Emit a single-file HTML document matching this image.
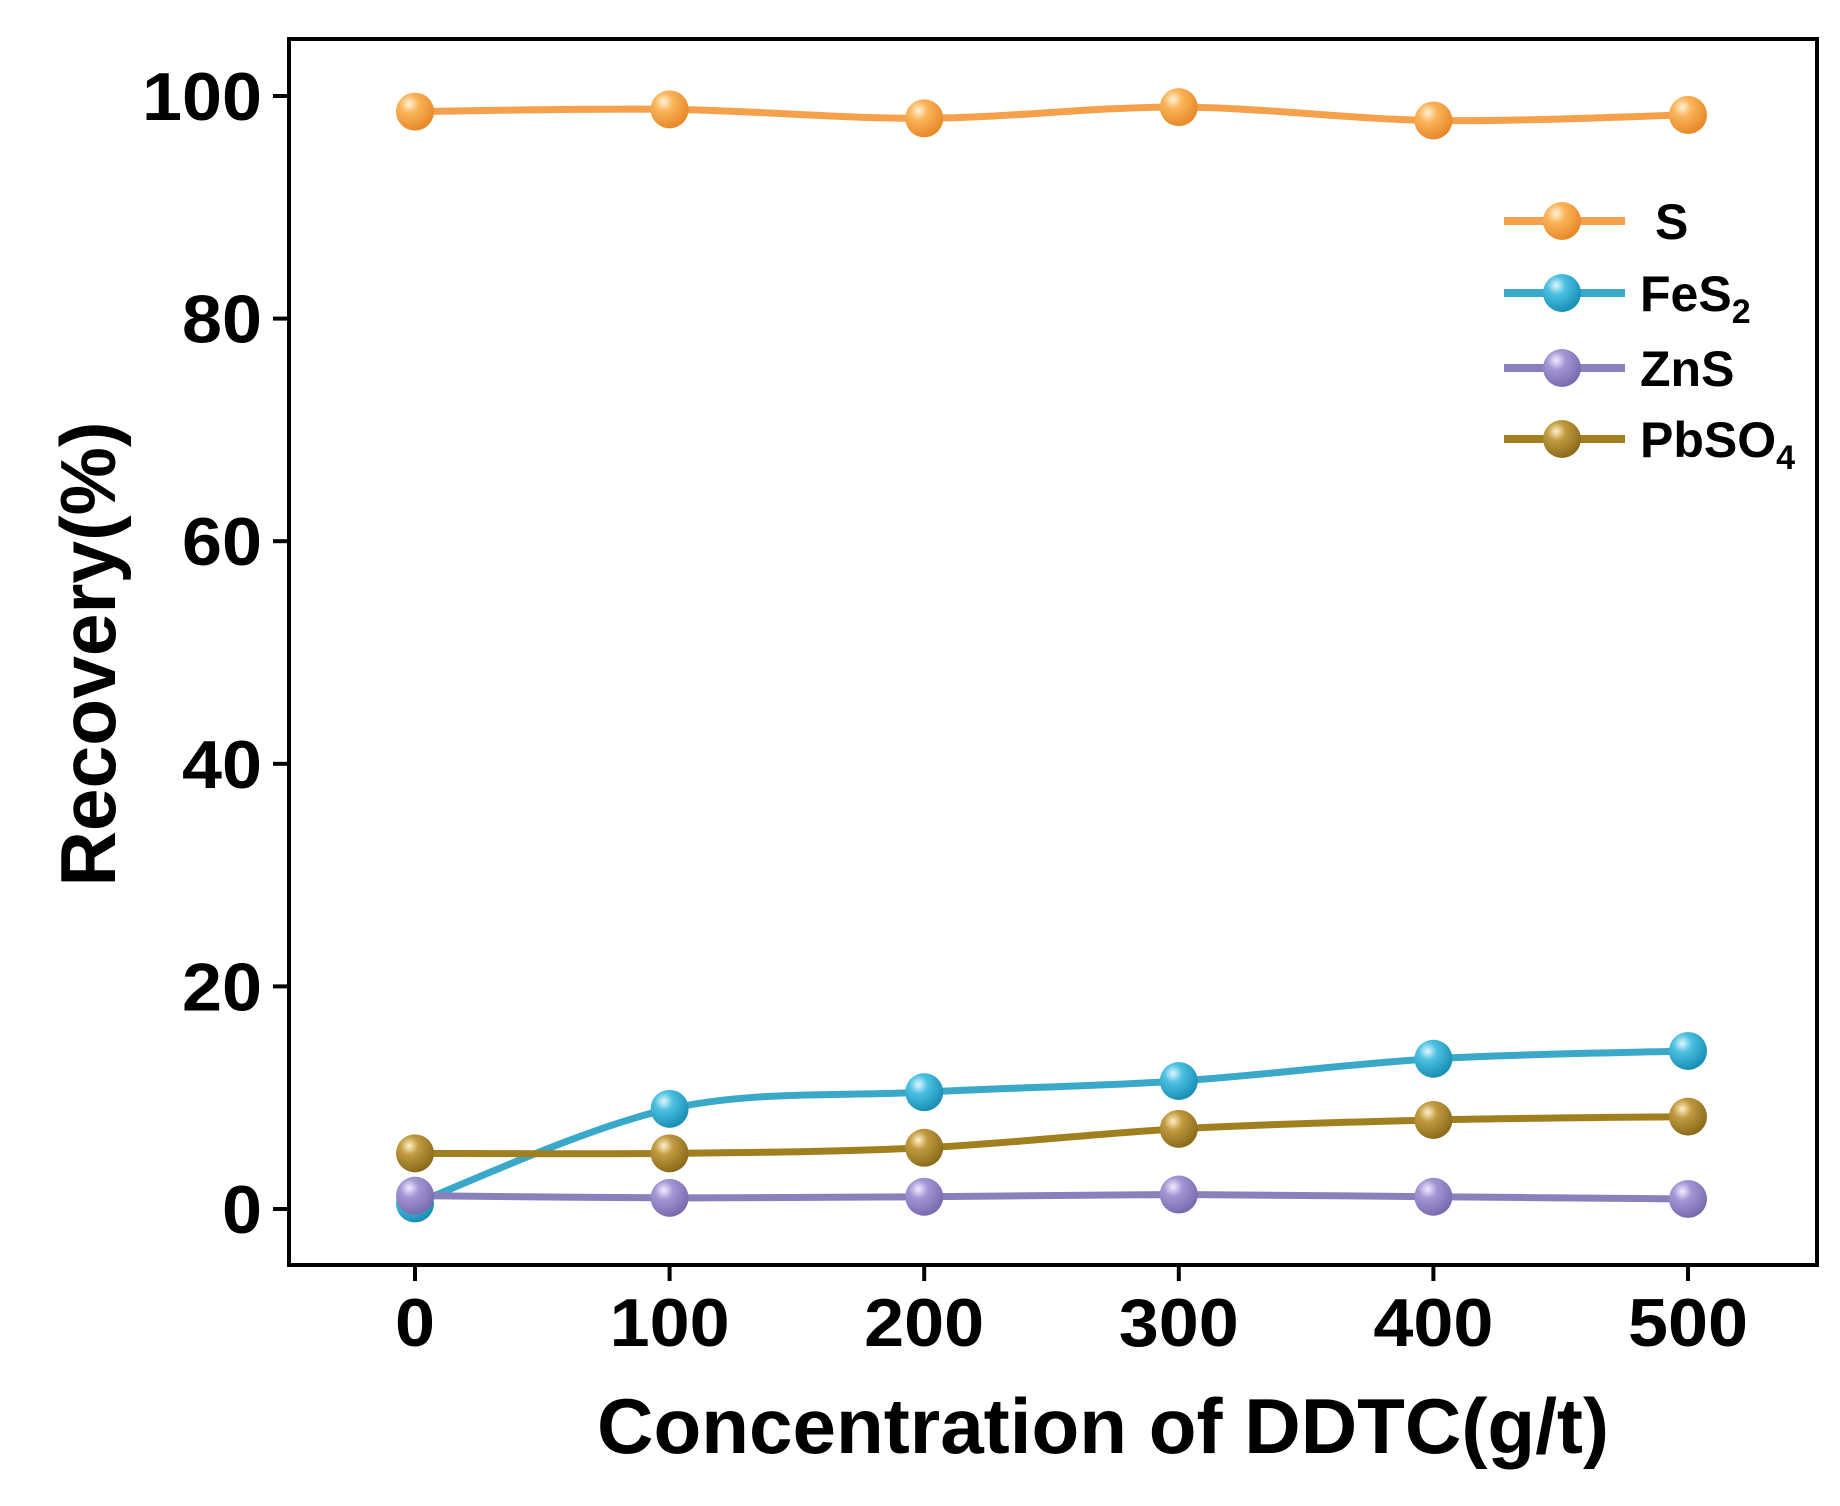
<!DOCTYPE html>
<html><head><meta charset="utf-8"><style>
html,body{margin:0;padding:0;background:#fff}
svg{display:block}
text{font-family:"Liberation Sans",Arial,sans-serif;font-weight:bold;fill:#000}
</style></head><body>
<svg id="chart" width="1840" height="1506" viewBox="0 0 1840 1506">
<defs>
<radialGradient id="g0" cx="0.35" cy="0.3" r="0.7"><stop offset="0" stop-color="#fff3d8"/><stop offset="0.35" stop-color="#fbb45a"/><stop offset="1" stop-color="#e8892a"/></radialGradient>
<radialGradient id="g1" cx="0.35" cy="0.3" r="0.7"><stop offset="0" stop-color="#e0f6ff"/><stop offset="0.35" stop-color="#4cc0e0"/><stop offset="1" stop-color="#1a90b8"/></radialGradient>
<radialGradient id="g2" cx="0.35" cy="0.3" r="0.7"><stop offset="0" stop-color="#f0ecff"/><stop offset="0.35" stop-color="#a396d4"/><stop offset="1" stop-color="#7a6cb0"/></radialGradient>
<radialGradient id="g3" cx="0.35" cy="0.3" r="0.7"><stop offset="0" stop-color="#fff0c8"/><stop offset="0.35" stop-color="#c09a40"/><stop offset="1" stop-color="#8c6c1c"/></radialGradient>
</defs>
</svg>
<script>
const categories=[0,100,200,300,400,500];
const sVals=[98.6,98.8,98.0,99.0,97.8,98.3];
const fes2Vals=[0.5,9.0,10.5,11.5,13.5,14.2];
const znsVals=[1.2,1.0,1.1,1.3,1.1,0.9];
const pbso4Vals=[5.0,5.0,5.5,7.2,8.0,8.3];
const yTicks=[0,20,40,60,80,100];
const seriesNames=["S","FeS2","ZnS","PbSO4"];

const NS="http://www.w3.org/2000/svg";
const svg=document.getElementById('chart');
const L=289,R=1817,T=39,B=1265;
const xs=v=>415+(v-0)*(1688-415)/500;
const ys=v=>1209-v*(1209-96)/100;
function mk(tag,attrs,parent){const e=document.createElementNS(NS,tag);for(const k in attrs)e.setAttribute(k,attrs[k]);(parent||svg).appendChild(e);return e;}

const frame=mk('rect',{x:L,y:T,width:R-L,height:B-T,fill:'none',stroke:'#000','stroke-width':4});



yTicks.forEach(v=>{
  const y=ys(v);
  const t=mk('line',{x1:L-16,x2:L,y1:y,y2:y,stroke:'#000','stroke-width':4});
  
  
  const lb=mk('text',{x:262,y:y+24,'text-anchor':'end','font-size':68,'textLength':(String(v).length*40),'lengthAdjust':'spacingAndGlyphs'});
  lb.textContent=v;
  
  
});
categories.forEach(v=>{
  const x=xs(v);
  const t=mk('line',{x1:x,x2:x,y1:B,y2:B+16,stroke:'#000','stroke-width':4});
  
  
  const lb=mk('text',{x:x,y:1346,'text-anchor':'middle','font-size':68,'textLength':(String(v).length*40),'lengthAdjust':'spacingAndGlyphs'});
  lb.textContent=v;
  
  
});
const xt=mk('text',{x:1103,y:1453,'text-anchor':'middle','font-size':78,'textLength':1012,'lengthAdjust':'spacingAndGlyphs'});
xt.textContent='Concentration of DDTC(g/t)';


const yt=mk('text',{x:0,y:0,'text-anchor':'middle','font-size':78,'textLength':465,'lengthAdjust':'spacingAndGlyphs',transform:'translate(115,654) rotate(-90)'});
yt.textContent='Recovery(%)';



function smoothPath(pts){
  let d='M'+pts[0][0]+','+pts[0][1];
  for(let i=0;i<pts.length-1;i++){
    const p0=pts[i-1]||pts[i],p1=pts[i],p2=pts[i+1],p3=pts[i+2]||p2;
    const c1=[p1[0]+(p2[0]-p0[0])/6,p1[1]+(p2[1]-p0[1])/6];
    const c2=[p2[0]-(p3[0]-p1[0])/6,p2[1]-(p3[1]-p1[1])/6];
    d+=' C'+c1[0]+','+c1[1]+' '+c2[0]+','+c2[1]+' '+p2[0]+','+p2[1];
  }
  return d;
}
const series=[sVals,fes2Vals,znsVals,pbso4Vals];
const colors=['#f5a04a','#3aa8c8','#8a80bc','#a0801e'];
const keys=['s','fes2','zns','pbso4'];
series.forEach((vals,si)=>{
  const pts=vals.map((v,i)=>[xs(categories[i]),ys(v)]);
  const p=mk('path',{d:smoothPath(pts),fill:'none',stroke:colors[si],'stroke-width':7});
  
  
});
series.forEach((vals,si)=>{
  vals.forEach((v,i)=>{
    const c=mk('circle',{cx:xs(categories[i]),cy:ys(v),r:19,fill:'url(#g'+si+')'});
    
    
  });
});
const rows=[221,293,368,439];
const labels=['S','FeS<tspan font-size="34" dy="12">2</tspan>','ZnS','PbSO<tspan font-size="34" dy="12">4</tspan>'];
rows.forEach((y,i)=>{
  const g=mk('g',{});
  
  
  mk('line',{x1:1504,x2:1625,y1:y,y2:y,stroke:colors[i],'stroke-width':8},g);
  mk('circle',{cx:1562,cy:y,r:19,fill:'url(#g'+i+')'},g);
  const t=mk('text',{x:i==0?1655:1640,y:y+18,'font-size':50},g);
  t.innerHTML=labels[i];
});
</script>
</body></html>
